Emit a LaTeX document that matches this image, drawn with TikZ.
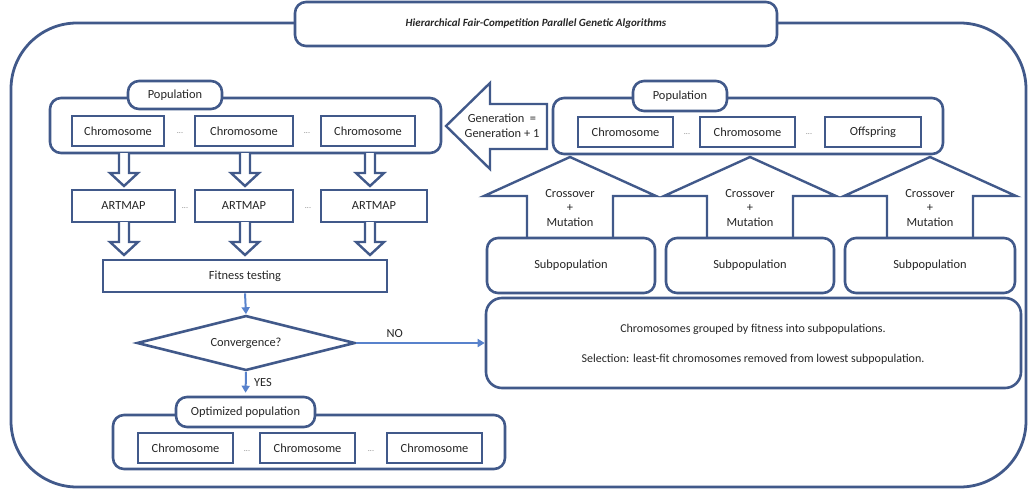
\documentclass[tikz,border=0pt]{standalone}
\usepackage{fontspec}
\setmainfont{Carlito}
\usetikzlibrary{shapes.geometric,arrows.meta}
\definecolor{edge}{HTML}{41598A}
\definecolor{flow}{HTML}{5882CC}
\definecolor{ink}{HTML}{262626}

\tikzset{
  lbl/.style={font=\fontsize{12.4}{14}\selectfont, text=ink},
  sq/.style={lbl, draw=edge, line width=2.6pt, fill=white, inner sep=0pt},
  rnd/.style={sq, rounded corners=11pt},
  dots/.style={font=\fontsize{8}{9}\selectfont, text=gray, inner sep=0pt},
  hollow/.style={draw=edge, line width=2.4pt, fill=white, line join=miter},
  flowarrow/.style={draw=flow, line width=2pt, -{Triangle[length=7pt,width=8pt]}},
}

% box given by its corners: style, name, x1, y1, x2, y2, text
\newcommand{\bx}[7]{%
  \node[#1, minimum width={#5-#3}, minimum height={#6-#4}] (#2)
    at ({(#3+#5)/2},{(#4+#6)/2}) {#7};}
% hollow block arrow pointing down: centre x, shaft top, head top, tip
\newcommand{\hdown}[4]{%
  \draw[hollow] (#1-5,#2) -- (#1-5,#3) -- (#1-14,#3) -- (#1,#4)
    -- (#1+14,#3) -- (#1+5,#3) -- (#1+5,#2);}
% hollow block arrow pointing up, centre x
\newcommand{\hup}[1]{%
  \draw[hollow] (#1-43,238) -- (#1-43,196) -- (#1-86,196) -- (#1,157)
    -- (#1+86,196) -- (#1+43,196) -- (#1+43,238);}

\begin{document}
\begin{tikzpicture}[x=1pt,y=-1pt]
\useasboundingbox (0,0) rectangle (1028,490);

% outer frame and title
\draw[draw=edge, line width=2.8pt, rounded corners=66pt] (11,23) rectangle (1026,487);
\bx{rnd, font=\fontsize{11}{13}\selectfont\bfseries\itshape}{title}{295}{2}{777}{46}
  {Hierarchical Fair-Competition Parallel Genetic Algorithms}

% ---- left: population and evaluation ----
\bx{rnd}{lpop}{50}{98}{441}{153}{}
\bx{rnd}{lpoplbl}{128}{81}{222}{109}{Population}
\bx{sq}{lc1}{72}{116}{164}{146}{Chromosome}
\bx{sq}{lc2}{195}{116}{293}{146}{Chromosome}
\bx{sq}{lc3}{321}{116}{415}{146}{Chromosome}
\node[dots] (ld1) at (180,133) {...};
\node[dots] (ld2) at (307,133) {...};

\hdown{124}{153}{173}{186}
\hdown{245}{153}{173}{186}
\hdown{370}{153}{173}{186}

\bx{sq}{am1}{72}{190}{175}{222}{ARTMAP}
\bx{sq}{am2}{195}{190}{293}{222}{ARTMAP}
\bx{sq}{am3}{321}{190}{427}{222}{ARTMAP}
\node[dots] (ad1) at (185,208) {...};
\node[dots] (ad2) at (308,208) {...};

\hdown{124}{222}{242}{255}
\hdown{245}{222}{242}{255}
\hdown{370}{222}{242}{255}

\bx{sq}{fit}{103}{260}{387}{292}{Fitness testing}
\node[lbl, shape=diamond, draw=edge, line width=2.6pt, fill=white, inner sep=0pt,
      minimum width=218pt, minimum height=55pt, aspect=4] (conv) at (246,343) {Convergence?};

% ---- optimized result ----
\bx{rnd}{opop}{113}{415}{505}{469}{}
\bx{rnd}{opoplbl}{176}{397}{315}{427}{Optimized population}
\bx{sq}{oc1}{138}{433}{233}{463}{Chromosome}
\bx{sq}{oc2}{260}{433}{355}{463}{Chromosome}
\bx{sq}{oc3}{387}{433}{482}{463}{Chromosome}
\node[dots] (od1) at (247,451) {...};
\node[dots] (od2) at (371,451) {...};

% ---- right: evolution of subpopulations ----
\draw[hollow] (547,104) -- (490,104) -- (490,83) -- (446,126) -- (490,169)
  -- (490,149) -- (547,149) -- cycle;
\node[lbl, align=center, font=\fontsize{12.4}{15}\selectfont] (gen) at (502,126)
  {Generation \ =\\Generation + 1};

\bx{rnd}{rpop}{553}{98}{943}{154}{}
\bx{rnd}{rpoplbl}{633}{81}{727}{111}{Population}
\bx{sq}{rc1}{578}{117}{673}{147}{Chromosome}
\bx{sq}{rc2}{700}{117}{795}{147}{Chromosome}
\bx{sq}{off}{825}{117}{921}{147}{Offspring}
\node[dots] (rd1) at (687,134) {...};
\node[dots] (rd2) at (809,134) {...};

\hup{570}
\hup{750}
\hup{930}
\node[lbl, align=center, font=\fontsize{12.4}{14.5}\selectfont] (cm1) at (570,208) {Crossover\\+\\Mutation};
\node[lbl, align=center, font=\fontsize{12.4}{14.5}\selectfont] (cm2) at (750,208) {Crossover\\+\\Mutation};
\node[lbl, align=center, font=\fontsize{12.4}{14.5}\selectfont] (cm3) at (930,208) {Crossover\\+\\Mutation};

\bx{rnd}{sp1}{487}{238}{655}{293}{Subpopulation}
\bx{rnd}{sp2}{666}{238}{834}{293}{Subpopulation}
\bx{rnd}{sp3}{845}{238}{1015}{293}{Subpopulation}

\bx{rnd, rounded corners=16pt}{group}{486}{298}{1021}{388}{}
\node[lbl, font=\fontsize{12}{14}\selectfont] (gtext1) at (753,329) {Chromosomes grouped by fitness into subpopulations.};
\node[lbl, font=\fontsize{12}{14}\selectfont] (gtext2) at (753,359) {Selection: least-fit chromosomes removed from lowest subpopulation.};

% ---- flow connectors ----
\draw[flowarrow] (fit.south) -- (conv.north);
\draw[flowarrow] (conv.east) -- (group.west |- conv.east)
  node[lbl, pos=0.3, above=1pt] (no) {NO};
\draw[flowarrow, shorten >=3pt] (conv.south) -- (opoplbl.north)
  node[lbl, pos=0.45, right=4pt] (yes) {YES};
\end{tikzpicture}
\end{document}
